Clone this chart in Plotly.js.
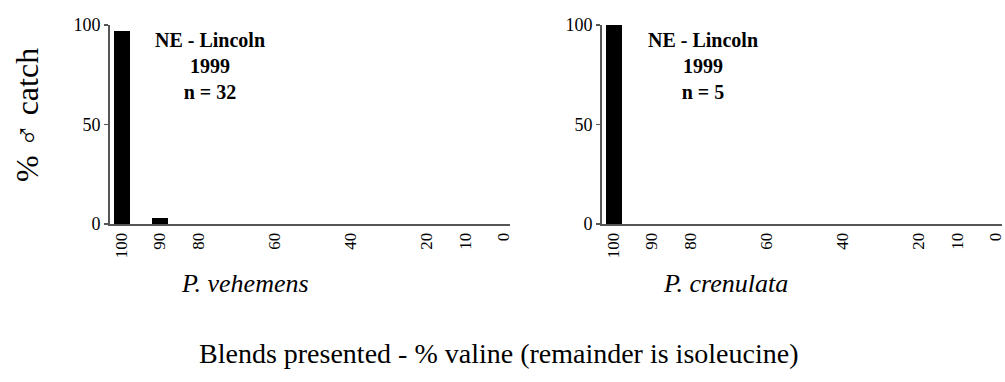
<!DOCTYPE html>
<html>
<head>
<meta charset="utf-8">
<script src="https://cdn.plot.ly/plotly-3.0.1.min.js"></script>
<style>html,body{margin:0;padding:0;background:#fff;}#chart{width:1005px;height:382px;}</style>
</head>
<body>
<div id="chart"></div>
<script>
// Blends presented: % valine (remainder isoleucine)
const blends = [100, 90, 80, 60, 40, 20, 10, 0];
const blendLabels = ["100", "90", "80", "60", "40", "20", "10", "0"];
// % male catch
const vehemens = [96.875, 3.125, 0, 0, 0, 0, 0, 0];
const crenulata = [100, 0, 0, 0, 0, 0, 0, 0];
const yTicks = [0, 50, 100];
const panelNotes = ["<b>NE - Lincoln<br>1999<br>n = 32</b>", "<b>NE - Lincoln<br>1999<br>n = 5</b>"];
const species = ["<i>P. vehemens</i>", "<i>P. crenulata</i>"];

const serif = "'Liberation Serif', Tinos, 'Times New Roman', Times, 'DejaVu Serif', serif";
const W = 1005, H = 382;
const mL = 110, mR = 3, mT = 25, mB = 158;
const pw = W - mL - mR, ph = H - mT - mB;
const px = v => (v - mL) / pw;
const py = v => (H - mB - v) / ph;

const traces = [
  {type: 'bar', x: blends, y: vehemens, xaxis: 'x', yaxis: 'y', width: 4.2,
   marker: {color: '#000', line: {width: 0}}, hoverinfo: 'x+y'},
  {type: 'bar', x: blends, y: crenulata, xaxis: 'x2', yaxis: 'y2', width: 4.2,
   marker: {color: '#000', line: {width: 0}}, hoverinfo: 'x+y'}
];

function xax(domain, anchor) {
  return {domain: domain, anchor: anchor, range: [103.1, -1.8], tickmode: 'array',
    tickvals: blends, ticktext: blendLabels, tickangle: -90, ticks: '',
    showline: true, linecolor: '#555', linewidth: 2, showgrid: false, zeroline: false,
    tickfont: {family: serif, size: 17, color: '#000'}, fixedrange: true};
}
function yax(anchor) {
  return {domain: [0, 1], anchor: anchor, range: [0, 100], tickmode: 'array',
    tickvals: yTicks, ticks: 'outside', ticklen: 4, tickwidth: 1.5, tickcolor: '#555',
    showline: true, linecolor: '#555', linewidth: 2, showgrid: false, zeroline: false,
    tickfont: {family: serif, size: 18, color: '#000'}, fixedrange: true};
}

const layout = {
  width: W, height: H, margin: {l: mL, r: mR, t: mT, b: mB},
  paper_bgcolor: '#fff', plot_bgcolor: '#fff', showlegend: false, bargap: 0,
  font: {family: serif},
  xaxis: xax([0, px(510)], 'y'),
  yaxis: yax('x'),
  xaxis2: xax([px(602), 1], 'y2'),
  yaxis2: yax('x2'),
  annotations: [
    {text: panelNotes[0], xref: 'paper', yref: 'paper', x: px(210), y: py(27), xanchor: 'center', yanchor: 'top',
     showarrow: false, align: 'center', font: {family: serif, size: 20, color: '#000'}},
    {text: panelNotes[1], xref: 'paper', yref: 'paper', x: px(703), y: py(27), xanchor: 'center', yanchor: 'top',
     showarrow: false, align: 'center', font: {family: serif, size: 20, color: '#000'}},
    {text: species[0], xref: 'paper', yref: 'paper', x: px(245), y: py(283), xanchor: 'center', yanchor: 'middle',
     showarrow: false, font: {family: serif, size: 26, color: '#000'}},
    {text: species[1], xref: 'paper', yref: 'paper', x: px(725), y: py(283), xanchor: 'center', yanchor: 'middle',
     showarrow: false, font: {family: serif, size: 26, color: '#000'}},
    {text: 'Blends presented - % valine (remainder is isoleucine)', xref: 'paper', yref: 'paper',
     x: px(498), y: py(353), xanchor: 'center', yanchor: 'middle', showarrow: false,
     font: {family: serif, size: 28, color: '#000'}},
    {text: '% \u2642 catch', xref: 'paper', yref: 'paper', x: px(27), y: py(115), xanchor: 'center', yanchor: 'middle',
     textangle: -90, showarrow: false, font: {family: serif, size: 32, color: '#000'}}
  ]
};

Plotly.newPlot('chart', traces, layout, {displayModeBar: false, staticPlot: true});
</script>
</body>
</html>
